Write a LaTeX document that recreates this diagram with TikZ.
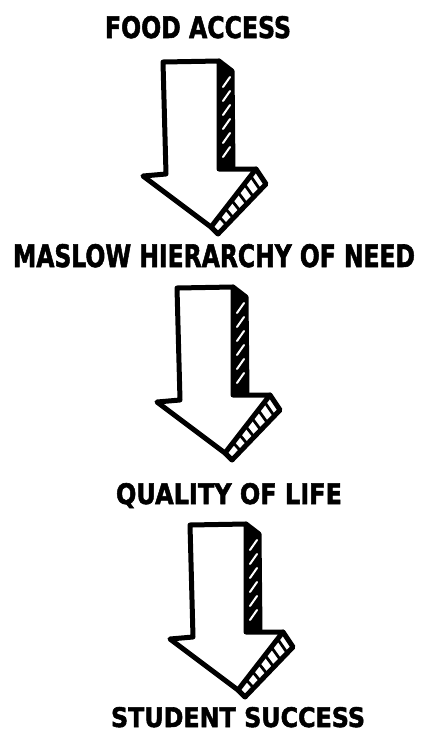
\documentclass[tikz,border=0pt]{standalone}
\usepackage{fontspec}
\setmainfont{DejaVu Sans}[BoldFeatures={FakeBold=2}]
\usepackage{graphicx}
\usetikzlibrary{calc}
\tikzset{
  lbl/.style={inner sep=0pt, outer sep=0pt, anchor=base west, font=\bfseries},
  sk/.style={line width=5pt, line join=round, line cap=round, black},
  hatchw/.style={white, line width=2pt, line cap=round},
  hatchb/.style={black, line width=2.8pt, line cap=round},
  pics/sketcharrow/.style={code={
    % shaft side face (dark, with white hatching)
    \fill[black] (56,-1) -- (69,9) -- (70,106) -- (56,107) -- cycle;
    \draw[sk] (56,-1) -- (69,9) -- (70,106);
    \foreach \y in {18,32,46,60,74,88}{
      \draw[hatchw] (60,\y+7) -- (67,\y-3);
    }
    % head side face (white with black hatching)
    \coordinate (-D) at (93,107);
    \coordinate (-Dp) at (103,122);
    \coordinate (-E) at (48,165);
    \coordinate (-Ep) at (55,172);
    \filldraw[sk, fill=white] (-D) -- (-Dp) -- (-Ep) -- (-E);
    \foreach \t in {0.12,0.26,0.40,0.54,0.68,0.82}{
      \draw[hatchb] ($(-D)!\t!(-E)$) -- ($(-Dp)!\t!(-Ep)$);
    }
    % front face
    \filldraw[sk, fill=white] (0,0) -- (56,-1) -- (56,107) -- (93,107) -- (-E) -- (-20,114) -- (3,112) -- cycle;
  }}
}
\begin{document}
\begin{tikzpicture}[x=1pt, y=-1pt]
\useasboundingbox (0,0) rectangle (425,732);
\fill[white] (0,0) rectangle (425,732);

\node[lbl] (food) at (105,38) {\resizebox{186pt}{22pt}{FOOD ACCESS}};
\node[lbl] (maslow) at (13,267) {\resizebox{402pt}{23pt}{MASLOW HIERARCHY OF NEED}};
\node[lbl] (quality) at (116,504) {\resizebox{226pt}{21pt}{QUALITY OF LIFE}};
\node[lbl] (student) at (111,727) {\resizebox{254pt}{20pt}{STUDENT SUCCESS}};

\pic (a1) at (163,62) {sketcharrow};
\pic (a2) at (177,288) {sketcharrow};
\pic (a3) at (190,525) {sketcharrow};
\end{tikzpicture}
\end{document}
